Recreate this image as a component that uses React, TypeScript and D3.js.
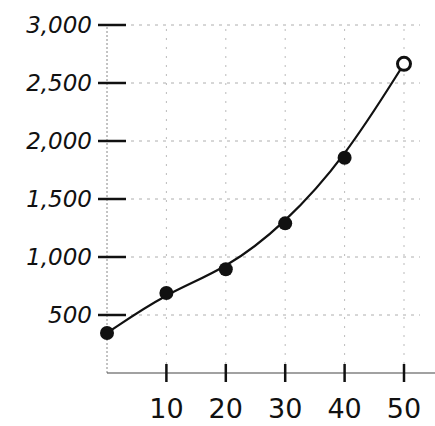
import React from "react";
import * as d3 from "d3";

const xValues = [0, 10, 20, 30, 40, 50];
const yValues = [345, 690, 895, 1290, 1855, 2665];
const yTicks = [500, 1000, 1500, 2000, 2500, 3000];
const yTickLabels = ["500", "1,000", "1,500", "2,000", "2,500", "3,000"];
const xTicks = [10, 20, 30, 40, 50];

export default function App() {
  const W = 435, H = 426;
  const x = d3.scaleLinear().domain([0, 50]).range([107, 404]);
  const y = d3.scaleLinear().domain([0, 3000]).range([373, 25]);
  const pts = xValues.map((v, i) => [x(v), y(yValues[i])] as [number, number]);
  const line = d3.line().curve(d3.curveBasis)(pts) || "";
  const font = "'Comic Sans MS', 'DejaVu Sans', sans-serif";
  return (
    <svg width={W} height={H} style={{ position: "absolute", left: 0, top: 0, background: "#fff" }}>
      {yTicks.map((t) => (
        <line key={"gy" + t} x1={x(0)} x2={420} y1={y(t)} y2={y(t)} stroke="#999" strokeWidth={0.8} strokeDasharray="3 5" />
      ))}
      {xTicks.map((t) => (
        <line key={"gx" + t} x1={x(t)} x2={x(t)} y1={y(0)} y2={y(3000)} stroke="#aaa" strokeWidth={0.8} strokeDasharray="2 7" />
      ))}
      <line x1={x(0)} x2={x(0)} y1={y(0)} y2={y(3000)} stroke="#888" strokeWidth={1} strokeDasharray="2 2" />
      <line x1={x(0)} x2={435} y1={y(0)} y2={y(0)} stroke="#444" strokeWidth={1.2} />
      {yTicks.map((t, i) => (
        <g key={"ty" + t}>
          <line x1={98} x2={126} y1={y(t)} y2={y(t)} stroke="#111" strokeWidth={2.5} />
          <text x={92} y={y(t)} dy="0.35em" textAnchor="end" fontFamily={font} fontSize={23} fontStyle="italic" fill="#111">
            {yTickLabels[i]}
          </text>
        </g>
      ))}
      {xTicks.map((t) => (
        <g key={"tx" + t}>
          <line x1={x(t)} x2={x(t)} y1={y(0) - 9} y2={y(0) + 9} stroke="#111" strokeWidth={2.5} />
          <text x={x(t)} y={418} textAnchor="middle" fontFamily={font} fontSize={27} fill="#111">
            {t}
          </text>
        </g>
      ))}
      <path d={line} fill="none" stroke="#111" strokeWidth={2.2} />
      {pts.map((p, i) =>
        i === pts.length - 1 ? (
          <circle key={i} cx={p[0]} cy={p[1]} r={6.5} fill="#fff" stroke="#111" strokeWidth={3} />
        ) : (
          <circle key={i} cx={p[0]} cy={p[1]} r={7} fill="#111" />
        )
      )}
    </svg>
  );
}
